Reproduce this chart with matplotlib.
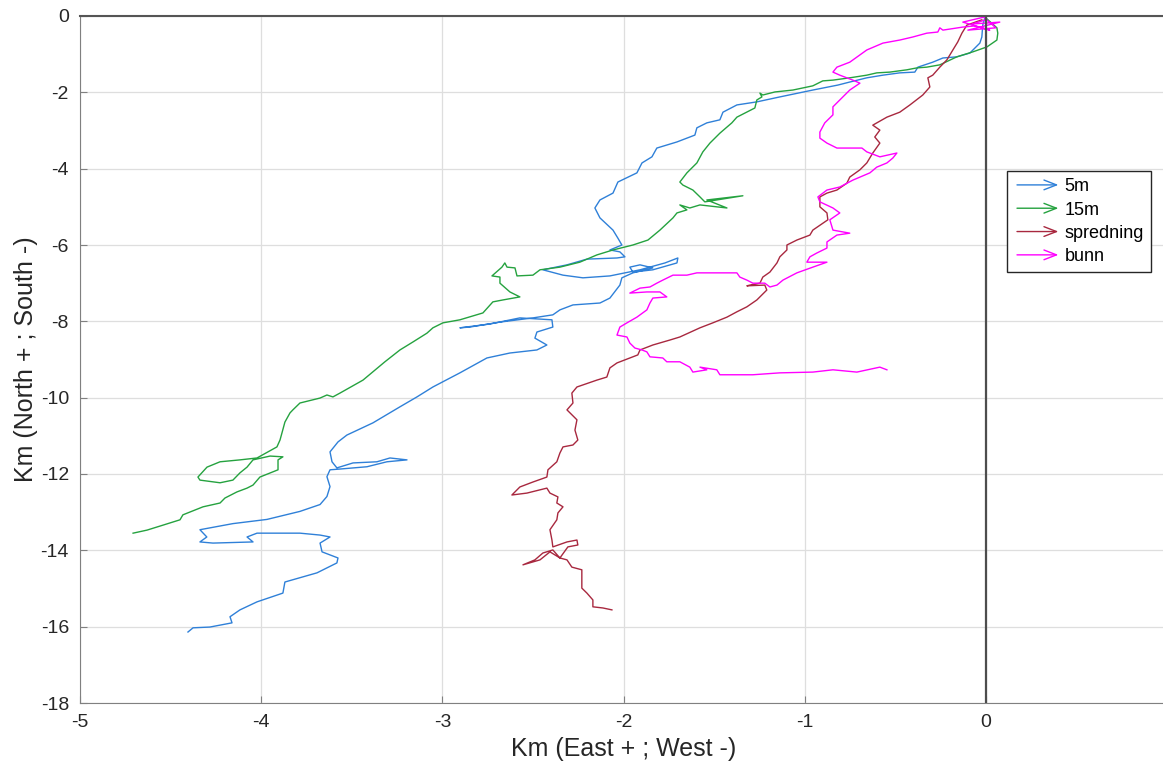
import matplotlib
matplotlib.use('Agg')
import matplotlib.pyplot as plt
from matplotlib.legend_handler import HandlerBase
from matplotlib.patches import FancyArrowPatch
from matplotlib.lines import Line2D

plt.rcParams['font.family'] = ['Liberation Sans', 'DejaVu Sans']
plt.rcParams['axes.unicode_minus'] = False

# drift tracks, km east (+) / north (+) of the release point
x_5m = [-0.006, -0.017, -0.022, -0.033, -0.088, -0.160, -0.237, -0.293, -0.375, -0.392,
        -0.475, -0.568, -0.657, -0.751, -0.817, -0.955, -1.137, -1.264, -1.374, -1.451,
        -1.468, -1.540, -1.595, -1.606, -1.705, -1.816, -1.843, -1.898, -1.926, -2.031,
        -2.058, -2.130, -2.158, -2.130, -2.058, -2.031, -2.009, -2.075, -2.020, -1.992,
        -2.036, -2.202, -2.312, -2.445, -2.334, -2.224, -2.075, -1.909, -1.771, -1.700,
        -1.705, -1.838, -1.948, -1.965, -1.909, -1.838, -1.948, -2.009, -2.020, -2.075,
        -2.130, -2.279, -2.351, -2.390, -2.500, -2.682, -2.848, -2.903, -2.737, -2.572,
        -2.395, -2.390, -2.478, -2.489, -2.423, -2.478, -2.627, -2.754, -2.903, -3.052,
        -3.140, -3.234, -3.383, -3.527, -3.576, -3.620, -3.609, -3.582, -3.493, -3.361,
        -3.289, -3.195, -3.306, -3.416, -3.565, -3.620, -3.637, -3.620, -3.637, -3.675,
        -3.786, -3.968, -4.156, -4.338, -4.300, -4.338, -4.266, -4.045, -4.078, -4.023,
        -3.786, -3.675, -3.620, -3.675, -3.664, -3.576, -3.582, -3.692, -3.869, -3.880,
        -4.023, -4.117, -4.172, -4.161, -4.283, -4.376, -4.404]
y_5m = [-0.05, -0.24, -0.55, -0.71, -0.97, -1.07, -1.10, -1.21, -1.34, -1.47,
        -1.49, -1.55, -1.62, -1.73, -1.81, -1.94, -2.12, -2.25, -2.33, -2.52,
        -2.72, -2.80, -2.93, -3.12, -3.30, -3.46, -3.69, -3.85, -4.11, -4.35,
        -4.64, -4.82, -5.03, -5.29, -5.61, -5.82, -6.00, -6.13, -6.18, -6.31,
        -6.34, -6.37, -6.52, -6.65, -6.79, -6.86, -6.81, -6.65, -6.47, -6.34,
        -6.47, -6.65, -6.71, -6.58, -6.52, -6.60, -6.73, -6.86, -7.05, -7.39,
        -7.52, -7.57, -7.70, -7.83, -7.91, -8.02, -8.15, -8.17, -8.07, -7.91,
        -7.96, -8.15, -8.28, -8.44, -8.62, -8.75, -8.83, -8.96, -9.35, -9.72,
        -9.98, -10.24, -10.66, -10.98, -11.16, -11.42, -11.68, -11.84, -11.71, -11.68,
        -11.58, -11.63, -11.68, -11.81, -11.87, -11.89, -12.07, -12.33, -12.59, -12.80,
        -12.98, -13.19, -13.30, -13.46, -13.65, -13.78, -13.81, -13.78, -13.65, -13.55,
        -13.55, -13.60, -13.65, -13.81, -14.04, -14.20, -14.33, -14.59, -14.83, -15.12,
        -15.35, -15.56, -15.74, -15.90, -16.01, -16.03, -16.14]

x_15m = [0.000, 0.061, 0.066, 0.061, 0.006, -0.072, -0.160, -0.254, -0.326, -0.381,
         -0.436, -0.530, -0.602, -0.657, -0.751, -0.844, -0.900, -0.955, -1.065, -1.164,
         -1.231, -1.247, -1.236, -1.264, -1.275, -1.374, -1.402, -1.468, -1.523, -1.562,
         -1.595, -1.650, -1.689, -1.672, -1.617, -1.578, -1.551, -1.341, -1.540, -1.429,
         -1.578, -1.634, -1.689, -1.650, -1.705, -1.727, -1.799, -1.865, -1.948, -2.058,
         -2.147, -2.241, -2.351, -2.461, -2.500, -2.588, -2.599, -2.643, -2.655, -2.671,
         -2.726, -2.682, -2.682, -2.627, -2.572, -2.666, -2.721, -2.776, -2.903, -2.997,
         -3.052, -3.085, -3.162, -3.234, -3.317, -3.438, -3.565, -3.604, -3.637, -3.675,
         -3.786, -3.825, -3.841, -3.869, -3.885, -3.896, -3.913, -4.023, -4.117, -4.227,
         -4.299, -4.349, -4.338, -4.227, -4.156, -4.117, -4.078, -4.045, -3.951, -3.880,
         -3.907, -3.907, -4.007, -4.045, -4.078, -4.134, -4.200, -4.227, -4.321, -4.432,
         -4.448, -4.542, -4.630, -4.707]
y_15m = [-0.05, -0.31, -0.45, -0.63, -0.81, -0.94, -1.07, -1.28, -1.34, -1.36,
         -1.41, -1.47, -1.49, -1.55, -1.62, -1.68, -1.70, -1.83, -1.94, -1.99,
         -2.07, -2.02, -2.12, -2.20, -2.41, -2.65, -2.80, -3.07, -3.33, -3.56,
         -3.85, -4.11, -4.35, -4.43, -4.56, -4.74, -4.87, -4.71, -4.82, -5.03,
         -4.95, -5.03, -4.95, -5.08, -5.16, -5.29, -5.61, -5.87, -6.00, -6.13,
         -6.26, -6.45, -6.58, -6.65, -6.79, -6.81, -6.60, -6.58, -6.47, -6.58,
         -6.81, -6.84, -7.00, -7.23, -7.36, -7.44, -7.49, -7.78, -7.96, -8.04,
         -8.17, -8.31, -8.54, -8.75, -9.06, -9.54, -9.88, -9.98, -9.93, -10.01,
         -10.14, -10.32, -10.40, -10.64, -10.92, -11.11, -11.29, -11.58, -11.63, -11.68,
         -11.82, -12.08, -12.16, -12.23, -12.16, -11.97, -11.82, -11.63, -11.53, -11.55,
         -11.63, -11.89, -12.08, -12.29, -12.37, -12.47, -12.63, -12.76, -12.86, -13.07,
         -13.20, -13.34, -13.47, -13.55]

x_spredning = [-0.022, -0.105, -0.132, -0.155, -0.182, -0.215, -0.254, -0.293, -0.320, -0.309,
               -0.348, -0.419, -0.475, -0.546, -0.624, -0.585, -0.613, -0.585, -0.624, -0.657,
               -0.695, -0.751, -0.767, -0.822, -0.877, -0.916, -0.916, -0.877, -0.872, -0.955,
               -0.971, -1.043, -1.098, -1.098, -1.137, -1.153, -1.192, -1.231, -1.247, -1.302,
               -1.319, -1.220, -1.209, -1.264, -1.319, -1.374, -1.429, -1.507, -1.578, -1.689,
               -1.744, -1.838, -1.909, -1.921, -2.036, -2.075, -2.092, -2.147, -2.257, -2.285,
               -2.279, -2.312, -2.257, -2.268, -2.252, -2.279, -2.334, -2.351, -2.368, -2.417,
               -2.423, -2.500, -2.572, -2.616, -2.533, -2.423, -2.406, -2.362, -2.368, -2.334,
               -2.362, -2.368, -2.406, -2.395, -2.390, -2.312, -2.257, -2.252, -2.307, -2.351,
               -2.390, -2.445, -2.489, -2.555, -2.461, -2.406, -2.351, -2.312, -2.285, -2.230,
               -2.230, -2.230, -2.202, -2.169, -2.169, -2.114, -2.064]
y_spredning = [-0.10, -0.24, -0.45, -0.68, -0.89, -1.15, -1.34, -1.55, -1.62, -1.86,
               -2.07, -2.33, -2.52, -2.65, -2.86, -2.99, -3.17, -3.33, -3.59, -3.85,
               -4.03, -4.22, -4.38, -4.56, -4.64, -4.74, -5.00, -5.16, -5.34, -5.61,
               -5.74, -5.87, -6.00, -6.13, -6.31, -6.47, -6.71, -6.84, -7.00, -7.05,
               -7.07, -7.05, -7.18, -7.44, -7.62, -7.75, -7.89, -8.04, -8.17, -8.41,
               -8.49, -8.62, -8.75, -8.88, -9.09, -9.22, -9.46, -9.54, -9.72, -9.88,
               -10.14, -10.32, -10.58, -10.85, -11.11, -11.24, -11.29, -11.45, -11.68, -11.89,
               -12.08, -12.21, -12.34, -12.55, -12.50, -12.37, -12.50, -12.60, -12.76, -12.86,
               -13.02, -13.20, -13.46, -13.73, -13.91, -13.78, -13.73, -13.86, -13.91, -14.20,
               -13.99, -14.07, -14.25, -14.38, -14.25, -14.04, -14.20, -14.25, -14.44, -14.51,
               -14.78, -14.99, -15.12, -15.30, -15.48, -15.51, -15.56]

x_bunn = [0.000, -0.077, 0.077, -0.099, 0.055, -0.011, -0.127, 0.022, -0.061,
          -0.127, -0.237, -0.254, -0.265, -0.326, -0.403, -0.475, -0.568, -0.657, -0.751,
          -0.822, -0.844, -0.806, -0.734, -0.695, -0.751, -0.806, -0.844, -0.844, -0.889,
          -0.916, -0.916, -0.877, -0.822, -0.684, -0.657, -0.585, -0.491, -0.513, -0.546,
          -0.602, -0.640, -0.734, -0.806, -0.877, -0.927, -0.916, -0.844, -0.806, -0.861,
          -0.844, -0.751, -0.822, -0.877, -0.877, -0.933, -0.971, -0.988, -0.877, -0.955,
          -1.043, -1.120, -1.153, -1.192, -1.220, -1.286, -1.319, -1.358, -1.374, -1.468,
          -1.595, -1.650, -1.727, -1.783, -1.816, -1.854, -1.909, -1.965, -1.871, -1.799,
          -1.761, -1.838, -1.854, -1.871, -1.926, -1.981, -2.020, -2.036, -1.981, -1.965,
          -1.937, -1.898, -1.871, -1.854, -1.783, -1.761, -1.689, -1.634, -1.617, -1.540,
          -1.578, -1.485, -1.468, -1.286, -1.137, -0.955, -0.844, -0.712, -0.585, -0.546]
y_bunn = [-0.10, -0.21, -0.16, -0.37, -0.31, -0.03, -0.16, -0.37, -0.26,
          -0.29, -0.37, -0.31, -0.42, -0.45, -0.55, -0.63, -0.71, -0.89, -1.21,
          -1.34, -1.47, -1.55, -1.68, -1.76, -1.94, -2.20, -2.38, -2.59, -2.80,
          -3.04, -3.20, -3.33, -3.46, -3.46, -3.56, -3.69, -3.59, -3.72, -3.85,
          -3.96, -4.11, -4.30, -4.48, -4.56, -4.74, -4.87, -5.03, -5.16, -5.34,
          -5.61, -5.69, -5.74, -5.92, -6.08, -6.21, -6.31, -6.45, -6.45, -6.58,
          -6.73, -6.92, -7.05, -7.10, -7.00, -7.00, -6.92, -6.84, -6.73, -6.73,
          -6.73, -6.79, -6.79, -6.92, -7.00, -7.10, -7.13, -7.26, -7.23, -7.23,
          -7.36, -7.39, -7.52, -7.70, -7.89, -8.04, -8.15, -8.36, -8.41, -8.57,
          -8.70, -8.75, -8.80, -8.93, -8.96, -9.06, -9.06, -9.20, -9.33, -9.27,
          -9.20, -9.27, -9.40, -9.40, -9.35, -9.33, -9.27, -9.33, -9.20, -9.27]

labels = ['5m', '15m', 'spredning', 'bunn']
colors = ['#2f80d8', '#25a23f', '#a8283f', '#ff00ff']
x_ticks = [-5, -4, -3, -2, -1, 0]
y_ticks = [0, -2, -4, -6, -8, -10, -12, -14, -16, -18]


class ArrowHandler(HandlerBase):
    def create_artists(self, legend, orig_handle, xdescent, ydescent,
                       width, height, fontsize, trans):
        y = height / 2 - ydescent
        arr = FancyArrowPatch((-xdescent, y), (-xdescent + width, y),
                              arrowstyle='->,head_length=9,head_width=3.5',
                              mutation_scale=1, color=orig_handle.get_color(),
                              lw=1.0, transform=trans)
        return [arr]


fig = plt.figure(figsize=(11.63, 7.68), dpi=100)
ax = fig.add_axes([80 / 1163, 65 / 768, 1087 / 1163, 687 / 768])

tracks = [(x_5m, y_5m), (x_15m, y_15m), (x_spredning, y_spredning), (x_bunn, y_bunn)]
handles = []
for (xs, ys), lab, c in zip(tracks, labels, colors):
    ln, = ax.plot(xs, ys, color=c, lw=1.0, label=lab)
    handles.append(ln)

ax.axvline(0, color='#4d4d4d', lw=1.6, zorder=3)

ax.set_xlim(-5, 1)
ax.set_ylim(-18, 0)
ax.set_xticks(x_ticks)
ax.set_yticks(y_ticks)
ax.grid(True, color='#dedede', lw=0.9)
ax.set_axisbelow(True)

for s in ['left', 'bottom']:
    ax.spines[s].set_color('#808080')
ax.spines['top'].set_color('#555555')
ax.spines['top'].set_linewidth(1.5)
ax.spines['right'].set_visible(False)
ax.tick_params(direction='in', length=5, colors='#808080', labelcolor='#262626',
               labelsize=14, pad=8)

ax.set_xlabel('Km (East + ; West -)', fontsize=18, color='#262626', labelpad=4)
ax.set_ylabel('Km (North + ; South -)', fontsize=18, color='#262626', labelpad=2)

leg = ax.legend(handles=handles, labels=labels, handler_map={Line2D: ArrowHandler()},
                loc='upper left', bbox_to_anchor=(1007 / 1163, 1 - 171 / 768),
                bbox_transform=fig.transFigure, borderaxespad=0, fontsize=13,
                handlelength=2.6, handletextpad=0.2, labelspacing=0.35, borderpad=0.4,
                fancybox=False, framealpha=1, edgecolor='#262626')
leg.get_frame().set_linewidth(1.0)

fig.savefig('out.png', dpi=100)
